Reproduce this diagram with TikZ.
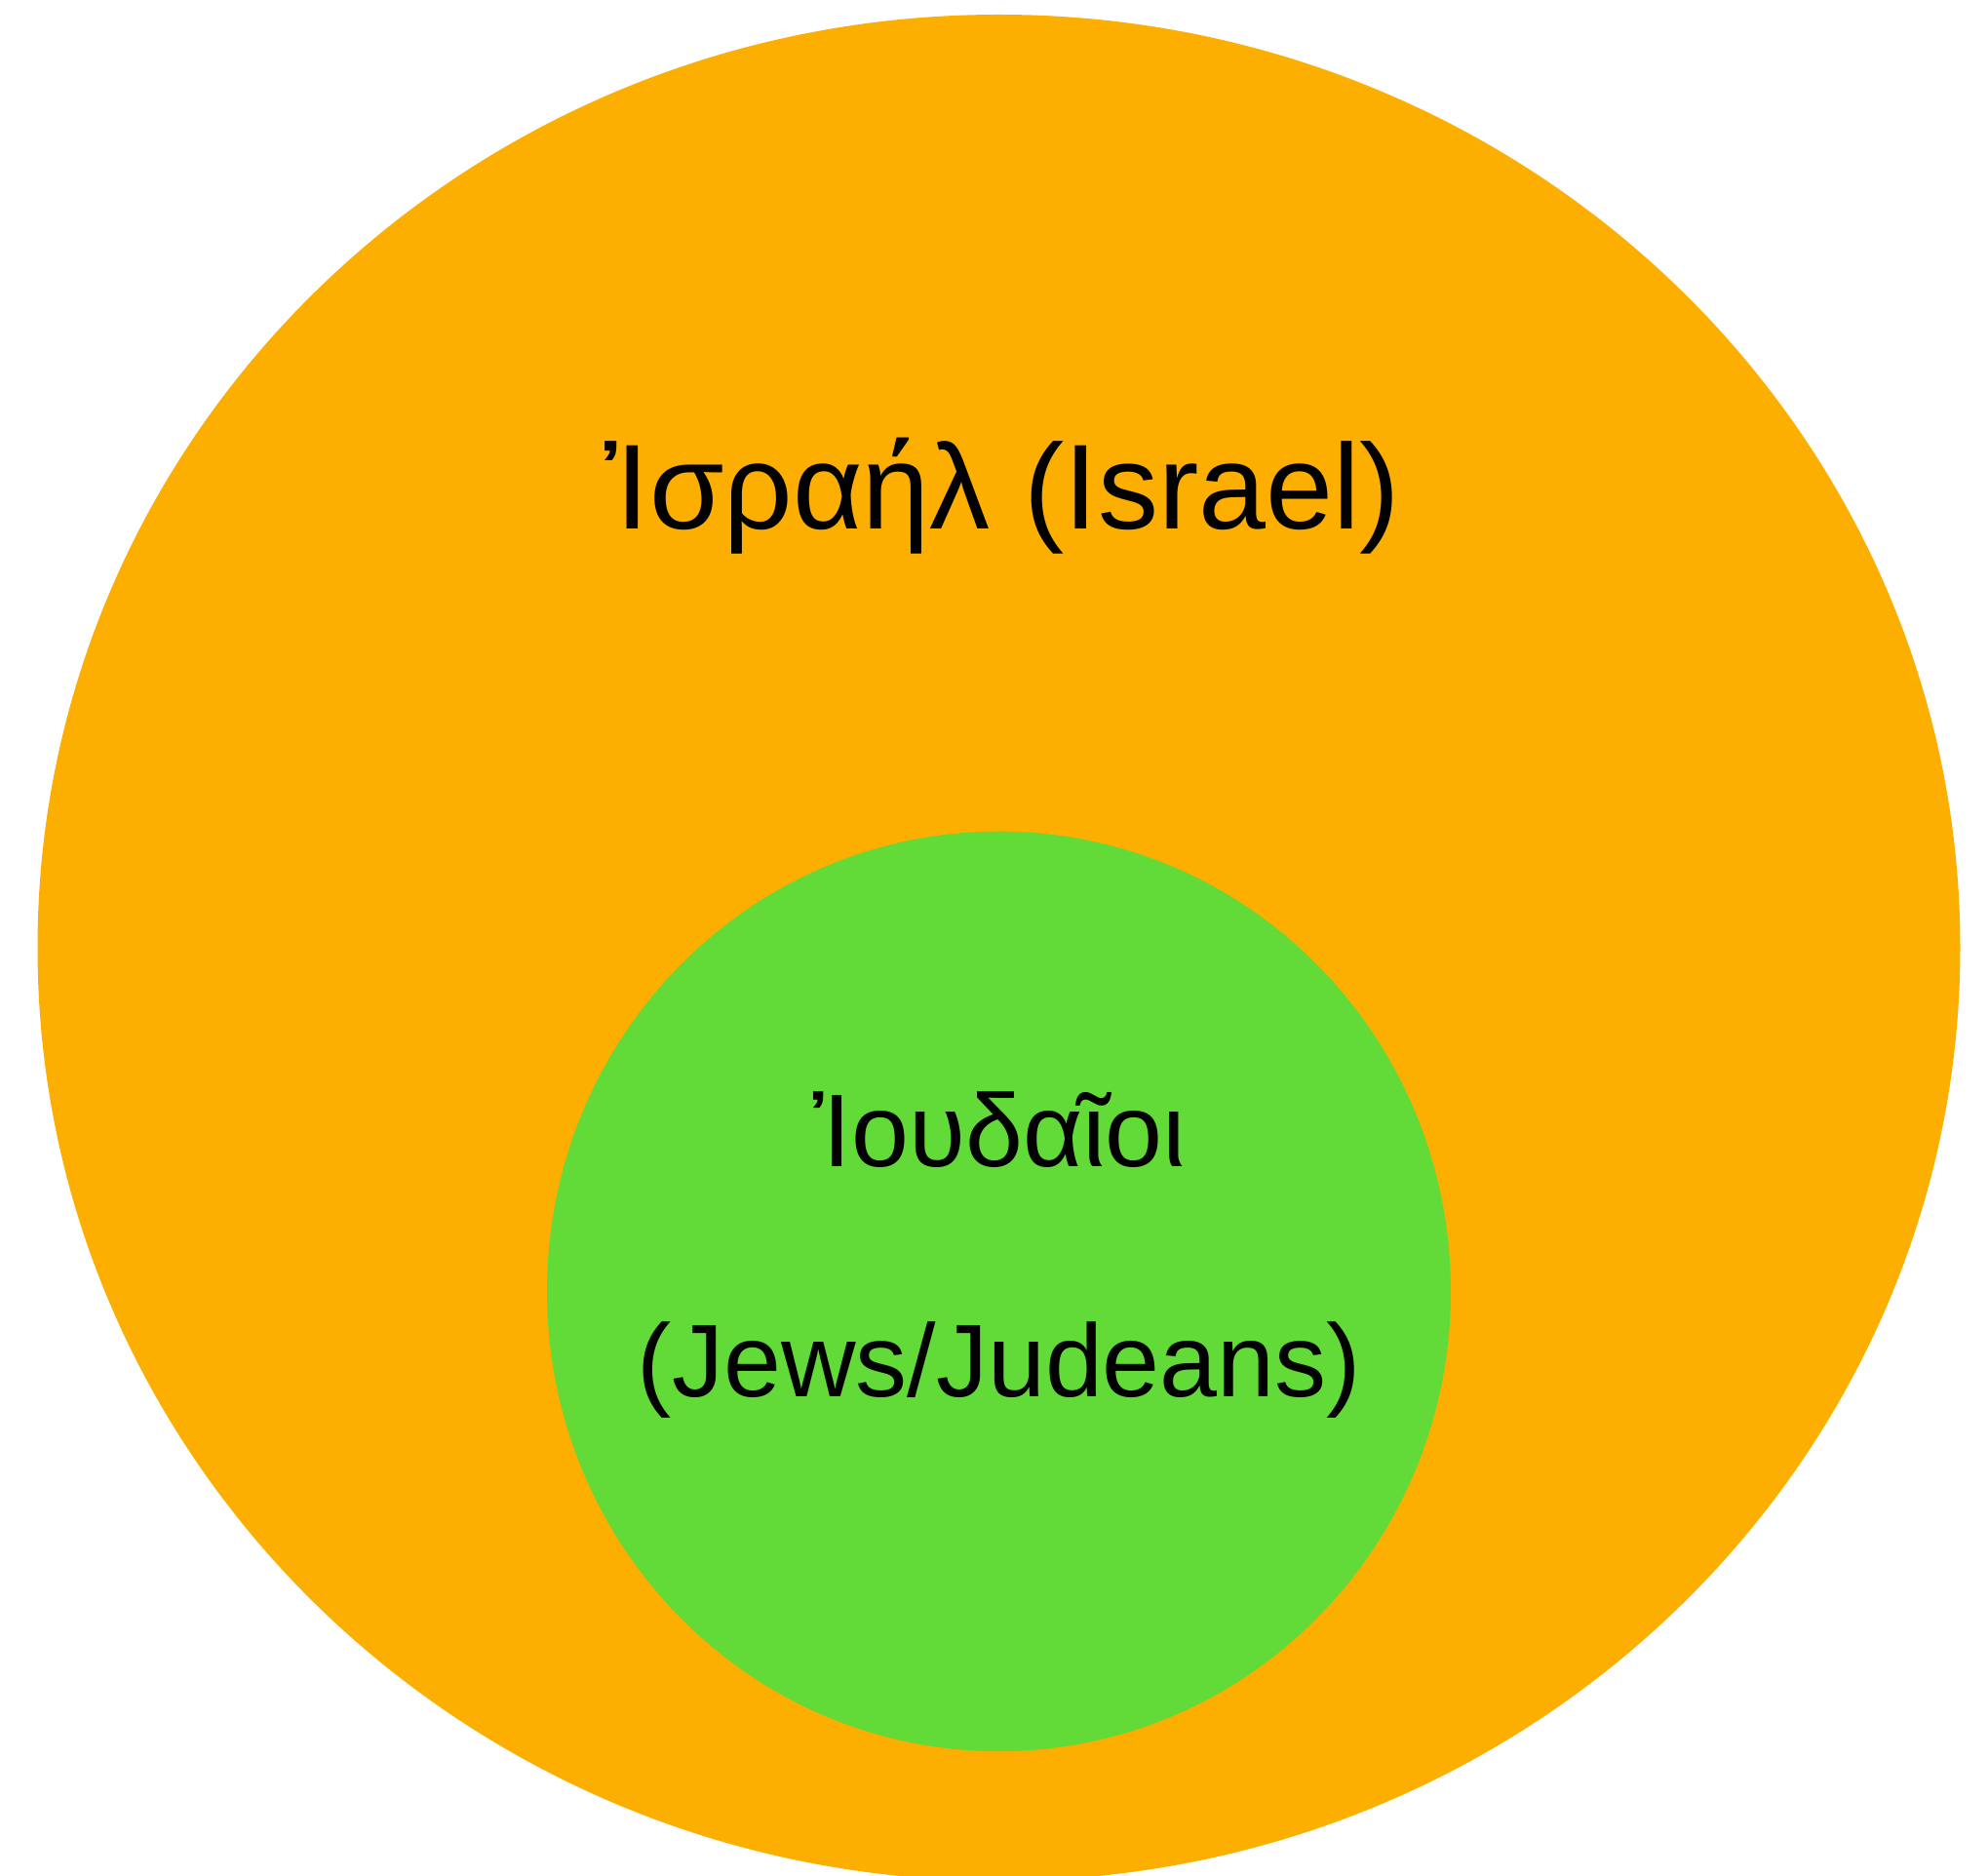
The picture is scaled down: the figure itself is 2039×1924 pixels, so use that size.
\documentclass[tikz,border=0pt]{standalone}
\usepackage{fontspec}
\setmainfont{Liberation Sans}
\definecolor{outerorange}{RGB}{252,175,0}
\definecolor{innergreen}{RGB}{98,218,55}
\begin{document}
\begin{tikzpicture}[x=0.25pt,y=-0.25pt,
  biglabel/.style={anchor=base,inner sep=0pt,font=\fontsize{31}{36}\selectfont},
  smalllabel/.style={anchor=base,inner sep=0pt,font=\fontsize{26.5}{30}\selectfont}]
\useasboundingbox (0,0) rectangle (2039,1924);
\clip (0,0) rectangle (2039,1924);
\fill[outerorange] (1024.5,972) ellipse [x radius=986, y radius=957];
\fill[innergreen] (1024.5,1324.4) ellipse [x radius=463.5, y radius=471.7];
\node[biglabel] (israel) at (1028,543) {Ἰσραήλ (Israel)};
\node[smalllabel] (ioudaioi) at (1025,1197) {Ἰουδαῖοι};
\node[smalllabel] (jews) at (1025,1433) {(Jews/Judeans)};
\end{tikzpicture}
\end{document}
